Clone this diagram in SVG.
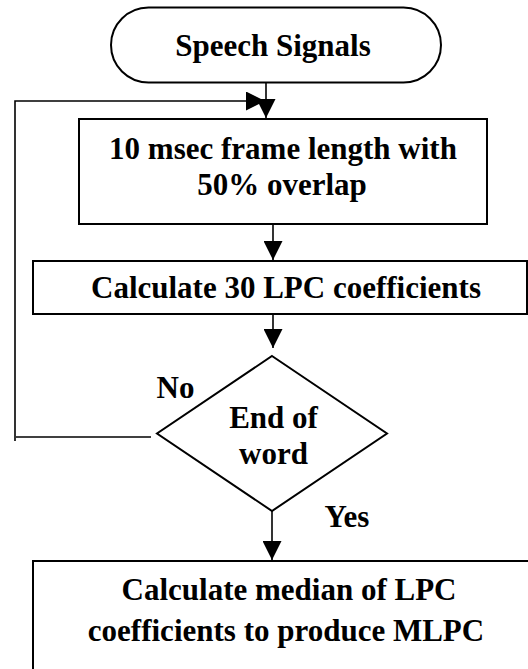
<svg xmlns="http://www.w3.org/2000/svg" width="528" height="669" viewBox="0 0 528 669">
  <style>
    .shape { fill: #ffffff; stroke: #000000; stroke-width: 2; }
    .conn { fill: none; stroke: #000000; stroke-width: 1.6; }
    .label { fill: #000000; text-anchor: middle; }
  </style>
  <defs>
    <marker id="arrow" markerUnits="userSpaceOnUse" markerWidth="19" markerHeight="19" refX="19" refY="9.5" orient="auto">
      <path d="M0,0 L19,9.5 L0,19 Z" fill="#000000"/>
    </marker>
  </defs>
  <rect width="528" height="669" fill="#ffffff"/>

  <!-- flow lines, including the "No" loop back to framing -->
  <g id="connectors">
    <path class="conn" d="M266,82 V118" marker-end="url(#arrow)"/>
    <path class="conn" d="M15,441 V101 H265" marker-end="url(#arrow)"/>
    <path class="conn" d="M16,437 H151"/>
    <path class="conn" d="M273,224 V260" marker-end="url(#arrow)"/>
    <path class="conn" d="M273,314 V348" marker-end="url(#arrow)"/>
    <path class="conn" d="M272,511 V560" marker-end="url(#arrow)"/>
  </g>

  <g font-family="Liberation Serif, serif" font-weight="bold" font-size="31">
    <g id="start">
      <rect class="shape" x="111" y="7.5" width="330" height="75" rx="37.5" ry="37.5"/>
      <text class="label" x="273" y="55.5">Speech Signals</text>
    </g>

    <g id="framing">
      <rect class="shape" x="79" y="119" width="408" height="105"/>
      <text class="label" x="283" y="158.5">10 msec frame length with</text>
      <text class="label" x="282" y="195">50% overlap</text>
    </g>

    <g id="lpc">
      <rect class="shape" x="33" y="261" width="494" height="53"/>
      <text class="label" x="286" y="298">Calculate 30 LPC coefficients</text>
    </g>

    <g id="decision">
      <polygon class="shape" points="272,356 387,433.5 272,511 157,433.5"/>
      <text class="label" x="273.5" y="427.5">End of</text>
      <text class="label" x="273.5" y="463.5">word</text>
      <text class="label" x="175.5" y="397.5">No</text>
      <text class="label" x="347" y="527">Yes</text>
    </g>

    <g id="median">
      <rect class="shape" x="33" y="561" width="520" height="130"/>
      <text class="label" x="289" y="600">Calculate median of LPC</text>
      <text class="label" x="286" y="641">coefficients to produce MLPC</text>
    </g>
  </g>
</svg>
